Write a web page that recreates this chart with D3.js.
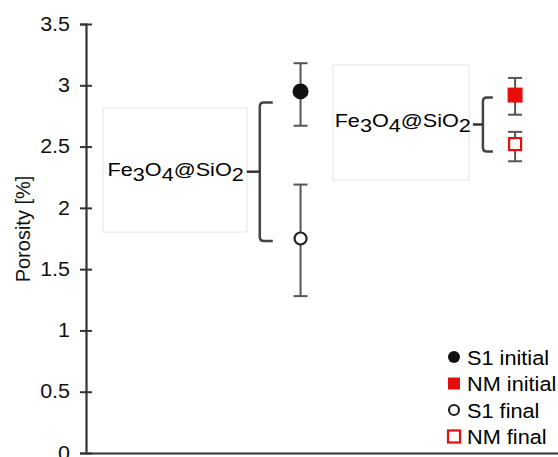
<html>
<script src='https://d3js.org/d3.v7.min.js'></script>
<head>
    <meta charset="UTF-8">
    <style>
        body { margin: 0; background: #fff; }
        svg { display: block; font-family: "Liberation Sans", Arial, sans-serif; }
    </style>
</head>
<body>
<svg width=558 height=457></svg>
</body>
<script>
    // values
    const groups = ["S1", "NM"];
    const groupPos = [1, 2];
    const seriesNames = ["S1 initial", "NM initial", "S1 final", "NM final"];
    const seriesGroup = ["S1", "NM", "S1", "NM"];
    const seriesValue = [2.95, 2.92, 1.75, 2.52];
    const seriesLow = [2.67, 2.76, 1.28, 2.38];
    const seriesHigh = [3.18, 3.06, 2.19, 2.62];
    const seriesShape = ["circle", "square", "circle", "square"];
    const seriesFilled = [true, true, false, false];
    const seriesColor = ["#111", "#e60d0d", "#222", "#e60d0d"];
    const yTicks = [0, 0.5, 1, 1.5, 2, 2.5, 3, 3.5];
    // bracket annotations: x position in data units, y span in values
    const bracketLabel = ["Fe3O4@SiO2", "Fe3O4@SiO2"];
    const bracketX = [0.81, 1.85];
    const bracketTop = [2.86, 2.9];
    const bracketBottom = [1.73, 2.46];

    const width = 558, height = 457;
    const stretch = 1.17; // the original picture is a bit wider than tall
    const svg = d3.select("svg");

    const x = d3.scaleLinear().domain([0, 2.2]).range([86, 558]);
    const y = d3.scaleLinear().domain([0, 3.5]).range([453, 24]);

    // y axis
    const yAxis = svg.append("g")
        .attr("transform", `translate(${x(0)},0)`)
        .call(d3.axisLeft(y).tickValues(yTicks).tickFormat(d3.format("")).tickSize(6).tickPadding(10));
    yAxis.select(".domain").attr("stroke", "#333").attr("stroke-width", 2.2);
    yAxis.selectAll(".tick line").attr("x1", 6).attr("x2", -6).attr("stroke", "#333").attr("stroke-width", 2);
    yAxis.selectAll(".tick text")
        .attr("font-size", 19.5).attr("fill", "#111")
        .attr("font-family", "Liberation Sans, Arial, sans-serif")
        .attr("x", -16 / 1.1)
        .attr("transform", `scale(1.1,1)`);

    // x axis (bare line)
    const xAxis = svg.append("g")
        .attr("transform", `translate(0,${y(0)})`)
        .call(d3.axisBottom(x).tickValues([]).tickSizeOuter(0));
    xAxis.select(".domain").attr("stroke", "#333").attr("stroke-width", 2.2);

    svg.append("text")
        .attr("transform", `translate(30,229) rotate(-90)`)
        .attr("text-anchor", "middle")
        .attr("font-size", 20)
        .attr("fill", "#111")
        .text("Porosity [%]");

    // brackets with labels
    function chemLabel(sel, label) {
        const parts = label.match(/[A-Za-z@]+|\d+/g);
        parts.forEach(p => {
            const t = sel.append("tspan").text(p);
            if (/^\d+$/.test(p)) t.attr("dy", 5);
            else t.attr("dy", -5);
        });
        sel.select("tspan").attr("dy", 0);
    }

    const boxes = [
        {x0: 103, x1: 247, y0: 108, y1: 232},
        {x0: 333, x1: 469, y0: 65, y1: 180}
    ];

    bracketLabel.forEach((lab, i) => {
        const bx = x(bracketX[i]);
        const yt = y(bracketTop[i]), yb = y(bracketBottom[i]);
        const ym = (yt + yb) / 2;
        const horn = i === 0 ? 13 : 10;
        const b = boxes[i];
        svg.append("rect")
            .attr("x", b.x0).attr("y", b.y0)
            .attr("width", b.x1 - b.x0).attr("height", b.y1 - b.y0)
            .attr("fill", "#fff").attr("stroke", "#e4e4e4").attr("stroke-width", 1);
        svg.append("path")
            .attr("d", `M${bx + horn},${yt} L${bx + 4},${yt} Q${bx},${yt} ${bx},${yt + 4} L${bx},${yb - 4} Q${bx},${yb} ${bx + 4},${yb} L${bx + horn},${yb}`)
            .attr("fill", "none").attr("stroke", "#444").attr("stroke-width", 2.5);
        svg.append("line")
            .attr("x1", bx - (i === 0 ? 13 : 10)).attr("x2", bx)
            .attr("y1", ym).attr("y2", ym)
            .attr("stroke", "#333").attr("stroke-width", 2.5);
        const tx = bx - (i === 0 ? 16 : 12);
        const t = svg.append("text")
            .attr("transform", `translate(${tx},${ym + (i === 0 ? 4 : 2)}) scale(${stretch},1)`)
            .attr("text-anchor", "end")
            .attr("font-size", 18.5)
            .attr("fill", "#000");
        chemLabel(t, lab);
    });

    // error bars and markers
    seriesNames.forEach((name, i) => {
        const cx = x(groupPos[groups.indexOf(seriesGroup[i])]);
        const cap = 7;
        const g = svg.append("g");
        g.append("line")
            .attr("x1", cx).attr("x2", cx)
            .attr("y1", y(seriesLow[i])).attr("y2", y(seriesHigh[i]))
            .attr("stroke", "#555").attr("stroke-width", 2);
        [seriesLow[i], seriesHigh[i]].forEach(v => {
            g.append("line")
                .attr("x1", cx - cap).attr("x2", cx + cap)
                .attr("y1", y(v)).attr("y2", y(v))
                .attr("stroke", "#555").attr("stroke-width", 2);
        });
        drawMarker(g, cx, y(seriesValue[i]), i, false);
    });

    function drawMarker(g, cx, cy, i, small) {
        if (seriesShape[i] === "circle") {
            const r = small ? 6 : (seriesFilled[i] ? 8 : 7);
            g.append("circle")
                .attr("cx", cx).attr("cy", cy).attr("r", seriesFilled[i] ? r : r - 1)
                .attr("fill", seriesFilled[i] ? seriesColor[i] : "#fff")
                .attr("stroke", seriesColor[i]).attr("stroke-width", seriesFilled[i] ? 0 : 2.2);
        } else {
            const s = small ? 12 : (seriesFilled[i] ? 15 : 12);
            g.append("rect")
                .attr("x", cx - s / 2).attr("y", cy - s / 2)
                .attr("width", s).attr("height", s)
                .attr("fill", seriesFilled[i] ? seriesColor[i] : "#fff")
                .attr("stroke", seriesColor[i]).attr("stroke-width", seriesFilled[i] ? 0 : 2.2);
        }
    }

    // legend
    const legend = svg.append("g");
    seriesNames.forEach((name, i) => {
        const ly = 357 + i * 26.5;
        drawMarker(legend, 454, ly, i, true);
        legend.append("text")
            .attr("transform", `translate(467,${ly + 7.5}) scale(1.06,1)`)
            .attr("font-size", 20.5)
            .attr("fill", "#000")
            .text(name);
    });
</script>
</html>
